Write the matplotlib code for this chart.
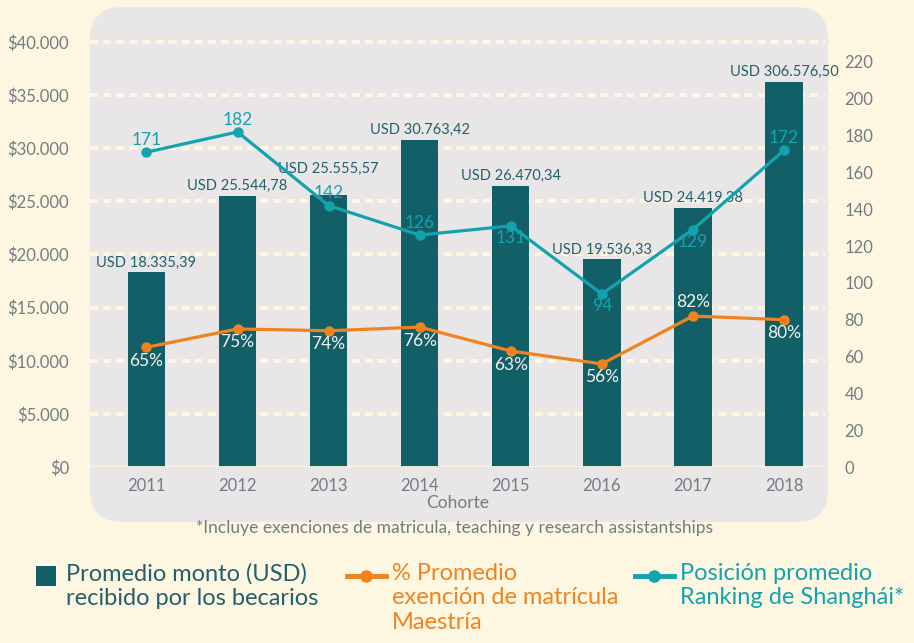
import matplotlib
matplotlib.use("Agg")
import matplotlib.pyplot as plt
from matplotlib.patches import FancyBboxPatch, Rectangle
from matplotlib.lines import Line2D
from matplotlib.transforms import IdentityTransform
from matplotlib.ticker import FuncFormatter

# data
cohortes = ["2011", "2012", "2013", "2014", "2015", "2016", "2017", "2018"]
monto_usd = [18335.39, 25544.78, 25555.57, 30763.42, 26470.34, 19536.33, 24419.38, 36250.0]
monto_labels = ["USD 18.335,39", "USD 25.544,78", "USD 25.555,57", "USD 30.763,42",
                "USD 26.470,34", "USD 19.536,33", "USD 24.419,38", "USD 306.576,50"]
exencion_pct = [65, 75, 74, 76, 63, 56, 82, 80]
ranking = [171, 182, 142, 126, 131, 94, 129, 172]

# label above (+1) or below (-1) the point
ranking_side = [1, 1, 1, 1, -1, -1, -1, 1]
exencion_side = [-1, -1, -1, -1, -1, -1, 1, -1]

BG = "#FDF7E1"
PANEL = "#E8E6E7"
BAR = "#135F67"
ORANGE = "#F0831F"
TEAL = "#13A3AE"
TICK = "#737C84"
BAR_TXT = "#24606B"

plt.rcParams["font.family"] = ["Lato", "DejaVu Sans"]

W, H = 914, 643
fig = plt.figure(figsize=(W / 100, H / 100), dpi=100, facecolor=BG)

# rounded grey panel behind the plot (pixel coords)
panel = FancyBboxPatch((90, H - 522), 738, 515, boxstyle="round,pad=0,rounding_size=32",
                       transform=IdentityTransform(), facecolor=PANEL, edgecolor="none", zorder=-5)
fig.patches.append(panel)

# axes geometry in pixels
ax_left, ax_right = 90, 825
y_zero, y_top_grid = 467, 42
y_ax_top = 30
px_per_usd = (y_zero - y_top_grid) / 40000
px_per_rank = (y_zero - 62) / 220

ax = fig.add_axes([ax_left / W, 1 - y_zero / H, (ax_right - ax_left) / W, (y_zero - y_ax_top) / H])
ax.set_facecolor("none")
ax.set_ylim(0, (y_zero - y_ax_top) / px_per_usd)
ax.set_xlim(-0.62, 7.45)

x = list(range(len(cohortes)))
ax.bar(x, monto_usd, width=0.41, color=BAR, zorder=3)

for i, (v, lab) in enumerate(zip(monto_usd, monto_labels)):
    off = 14 if i == 2 else 2
    ax.annotate(lab, (i, v), xytext=(0, off), textcoords="offset points",
                ha="center", va="bottom", fontsize=10.5, color=BAR_TXT, zorder=6)

ax.set_yticks(range(0, 40001, 5000))
ax.yaxis.set_major_formatter(FuncFormatter(lambda v, p: "$" + f"{int(v):,}".replace(",", ".")))
ax.set_xticks(x)
ax.set_xticklabels(cohortes)
ax.tick_params(length=0, labelsize=12, colors=TICK)
ax.tick_params(axis="y", pad=15)
ax.tick_params(axis="x", pad=8)
ax.set_xlabel("Cohorte", fontsize=12.5, color=TICK, labelpad=1)
for s in ax.spines.values():
    s.set_visible(False)

for v in range(5000, 40001, 5000):
    ax.axhline(v, color=BG, lw=2.9, dashes=(2.0, 1.25), zorder=1)
ax.axhline(0, color=BG, lw=2, zorder=4)

# right axis for percentages and ranking
ax2 = ax.twinx()
ax2.set_ylim(0, (y_zero - y_ax_top) / px_per_rank)
ax2.set_yticks(range(0, 221, 20))
ax2.tick_params(length=0, labelsize=12, colors=TICK, pad=14)
for s in ax2.spines.values():
    s.set_visible(False)

ax2.plot(x, exencion_pct, color=ORANGE, lw=2.3, marker="o", ms=6.5, zorder=5)
ax2.plot(x, ranking, color=TEAL, lw=2.3, marker="o", ms=6.5, zorder=5)

for i, (v, s) in enumerate(zip(exencion_pct, exencion_side)):
    ax2.annotate(f"{v}%", (i, v), xytext=(0, 4 * s), textcoords="offset points",
                 ha="center", va="bottom" if s > 0 else "top", fontsize=12.5, color="#F4F1EC", zorder=6)
for i, (v, s) in enumerate(zip(ranking, ranking_side)):
    ax2.annotate(str(v), (i, v), xytext=(0, 3 * s), textcoords="offset points",
                 ha="center", va="bottom" if s > 0 else "top", fontsize=12.5, color=TEAL, zorder=6)

fig.text(455 / W, 1 - 528 / H, "*Incluye exenciones de matricula, teaching y research assistantships",
         ha="center", va="center", fontsize=12.5, color=TICK)

# legend, drawn by hand
leg_y = 1 - 576 / H
fig.patches.append(Rectangle((36 / W, 1 - 586 / H), 20 / W, 20 / H, transform=fig.transFigure,
                             facecolor=BAR, edgecolor="none"))
fig.text(66 / W, 1 - 563 / H, "Promedio monto (USD)\nrecibido por los becarios", ha="left", va="top",
         fontsize=17, color=BAR_TXT, linespacing=1.2)

fig.add_artist(Line2D([347 / W, 386 / W], [leg_y, leg_y], transform=fig.transFigure, color=ORANGE, lw=3.5))
fig.add_artist(Line2D([366 / W], [leg_y], transform=fig.transFigure, color=ORANGE, marker="o", ms=8))
fig.text(392 / W, 1 - 563 / H, "% Promedio\nexención de matrícula\nMaestría", ha="left", va="top",
         fontsize=17, color=ORANGE, linespacing=1.2)

fig.add_artist(Line2D([635 / W, 674 / W], [leg_y, leg_y], transform=fig.transFigure, color=TEAL, lw=3.5))
fig.add_artist(Line2D([654 / W], [leg_y], transform=fig.transFigure, color=TEAL, marker="o", ms=8))
fig.text(680 / W, 1 - 563 / H, "Posición promedio\nRanking de Shanghái*", ha="left", va="top",
         fontsize=17, color=TEAL, linespacing=1.2)

fig.savefig("out.png", dpi=100, facecolor=BG)
